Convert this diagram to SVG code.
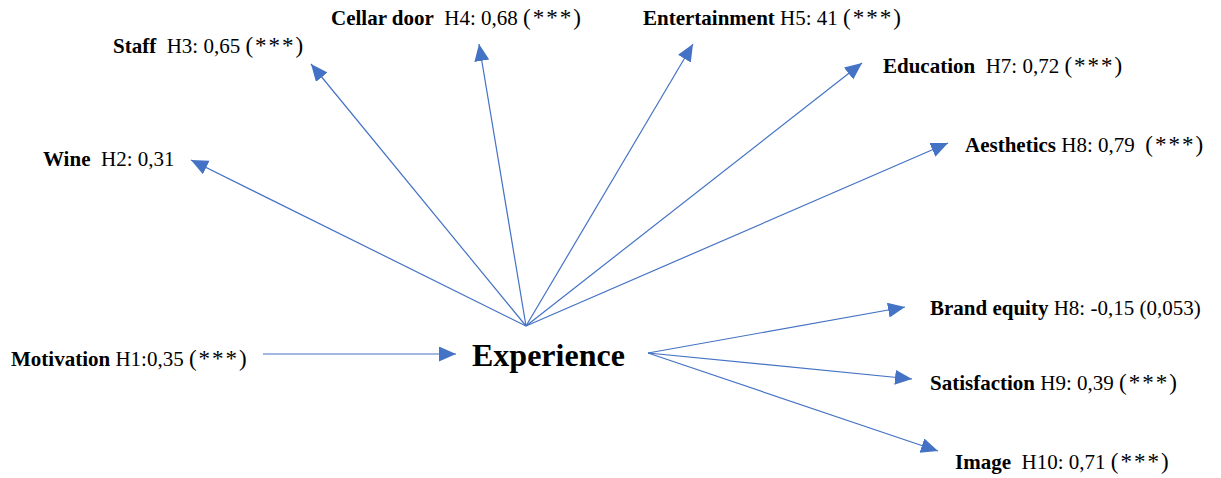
<svg xmlns="http://www.w3.org/2000/svg" width="1221" height="478" viewBox="0 0 1221 478">
  <style>
    text { white-space: pre; }
    .lbl { font-family: "Liberation Serif", "Times New Roman", serif; font-size: 21px; fill: #000; }
    .b { font-weight: bold; }
    .sig { font-size: 23px; letter-spacing: 2px; }
    .main { font-family: "Liberation Serif", "Times New Roman", serif; font-size: 32px; font-weight: bold; fill: #000; }
    .edge { stroke: #4472C4; stroke-width: 1.2; fill: none; marker-end: url(#arrow); }
  </style>
  <defs>
    <marker id="arrow" markerUnits="userSpaceOnUse" markerWidth="18" markerHeight="16" refX="17" refY="7.5" orient="auto">
      <path d="M0,0 L17,7.5 L0,15 Z" fill="#4472C4"/>
    </marker>
  </defs>
  <rect width="1221" height="478" fill="#fff"/>

  <!-- connectors -->
  <g id="connectors">
    <line class="edge" x1="263" y1="354" x2="456" y2="354"/>
    <line class="edge" x1="526" y1="326" x2="191" y2="160"/>
    <line class="edge" x1="526" y1="326" x2="311" y2="64"/>
    <line class="edge" x1="526" y1="326" x2="479" y2="44"/>
    <line class="edge" x1="526" y1="326" x2="693" y2="44"/>
    <line class="edge" x1="526" y1="326" x2="862" y2="63"/>
    <line class="edge" x1="526" y1="326" x2="948" y2="143"/>
    <line class="edge" x1="648" y1="353" x2="905" y2="307"/>
    <line class="edge" x1="648" y1="353" x2="912" y2="379"/>
    <line class="edge" x1="648" y1="353" x2="938" y2="451"/>
  </g>

  <g id="experience">
    <text class="main" x="472" y="366">Experience</text>
  </g>
  <g id="motivation">
    <text class="lbl" x="11" y="366"><tspan class="b">Motivation</tspan> H1:0,35 <tspan class="sig">(***)</tspan></text>
  </g>
  <g id="wine">
    <text class="lbl" x="43" y="166"><tspan class="b">Wine</tspan>  H2: 0,31</text>
  </g>
  <g id="staff">
    <text class="lbl" x="113" y="53"><tspan class="b">Staff</tspan>  H3: 0,65 <tspan class="sig">(***)</tspan></text>
  </g>
  <g id="cellar-door">
    <text class="lbl" x="331" y="25"><tspan class="b">Cellar door</tspan>  H4: 0,68 <tspan class="sig">(***)</tspan></text>
  </g>
  <g id="entertainment">
    <text class="lbl" x="643" y="25"><tspan class="b">Entertainment</tspan> H5: 41 <tspan class="sig">(***)</tspan></text>
  </g>
  <g id="education">
    <text class="lbl" x="883" y="73"><tspan class="b">Education</tspan>  H7: 0,72 <tspan class="sig">(***)</tspan></text>
  </g>
  <g id="aesthetics">
    <text class="lbl" x="965" y="152"><tspan class="b">Aesthetics</tspan> H8: 0,79  <tspan class="sig">(***)</tspan></text>
  </g>
  <g id="brand-equity">
    <text class="lbl" x="930" y="315"><tspan class="b">Brand equity</tspan> H8: -0,15 (0,053)</text>
  </g>
  <g id="satisfaction">
    <text class="lbl" x="930" y="390"><tspan class="b">Satisfaction</tspan> H9: 0,39 <tspan class="sig">(***)</tspan></text>
  </g>
  <g id="image">
    <text class="lbl" x="955" y="469"><tspan class="b">Image</tspan>  H10: 0,71 <tspan class="sig">(***)</tspan></text>
  </g>
</svg>
